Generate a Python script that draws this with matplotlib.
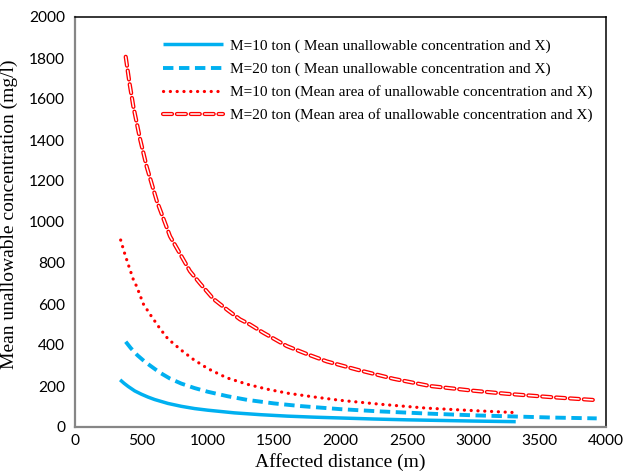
import matplotlib
matplotlib.use("Agg")
import matplotlib.pyplot as plt
import matplotlib.patheffects as pe

x_m10 = [340, 370, 400, 450, 500, 550, 600, 700, 800, 900, 1000, 1200, 1400,
         1600, 1800, 2000, 2250, 2500, 2750, 3000, 3320]
y_m10 = [230, 213, 198, 176, 160, 146, 134, 115, 101, 90, 82, 69, 60,
         53, 48, 44, 39, 35, 32, 29, 26]

x_m20 = [382, 420, 470, 520, 565, 640, 716, 800, 900, 1000, 1150, 1300, 1500,
         1700, 2000, 2300, 2674, 3000, 3327, 3600, 3930]
y_m20 = [416, 385, 350, 322, 300, 265, 236, 212, 190, 172, 150, 132, 115,
         102, 87, 76, 65, 57, 51, 46, 42]

x_a10 = [344, 370, 400, 439, 465, 515, 565, 640, 700, 800, 891, 1000, 1143,
         1300, 1444, 1600, 1795, 2000, 2300, 2649, 3000, 3327]
y_a10 = [912, 855, 795, 720, 685, 600, 550, 480, 430, 375, 330, 285, 240,
         208, 185, 165, 147, 130, 111, 92, 80, 70]

x_a20 = [382, 410, 439, 490, 540, 615, 716, 800, 866, 942, 1042, 1150, 1243,
         1318, 1418, 1595, 1750, 1896, 2122, 2400, 2674, 3000, 3252, 3600, 3904]
y_a20 = [1806, 1680, 1565, 1405, 1270, 1105, 930, 835, 760, 700, 625, 570, 525,
         500, 460, 395, 355, 320, 280, 235, 200, 177, 162, 145, 132]

labels = ["M=10 ton ( Mean unallowable concentration and X)",
          "M=20 ton ( Mean unallowable concentration and X)",
          "M=10 ton (Mean area of unallowable concentration and X)",
          "M=20 ton (Mean area of unallowable concentration and X)"]

plt.rcParams['lines.scale_dashes'] = False
blue = "#00B0F0"
red = "#FF0000"

fig = plt.figure(figsize=(6.27, 4.76), dpi=100)
ax = fig.add_axes([75/627, 49/476, 531/627, 410/476])

ax.plot(x_m10, y_m10, color=blue, lw=2.5, solid_capstyle="butt",
        solid_joinstyle="round", label=labels[0])
ax.plot(x_m20, y_m20, color=blue, lw=2.8, dashes=(7.5, 4), dash_capstyle="butt",
        dash_joinstyle="round", label=labels[1])
ax.plot(x_a10, y_a10, color=red, lw=2.3, dashes=(0.1, 4.8), dash_capstyle="round",
        label=labels[2])
ax.plot(x_a20, y_a20, color="white", lw=1.1, dashes=(6.5, 3.5), dash_capstyle="round",
        dash_joinstyle="round", label=labels[3],
        path_effects=[pe.Stroke(linewidth=3.0, foreground=red), pe.Normal()])

ax.set_xlim(0, 4000)
ax.set_ylim(0, 2000)
ax.set_xticks(range(0, 4001, 500))
ax.set_yticks(range(0, 2001, 200))
ax.tick_params(length=0, labelsize=11.2)
ax.tick_params(axis="y", pad=7)
ax.tick_params(axis="x", pad=5)
for t in ax.get_xticklabels() + ax.get_yticklabels():
    t.set_fontfamily("Lato")

for s in ["left", "bottom"]:
    ax.spines[s].set_color("#868686")
    ax.spines[s].set_linewidth(1.6)
for s in ["top", "right"]:
    ax.spines[s].set_color("black")
    ax.spines[s].set_linewidth(1.1)

ax.set_xlabel("Affected distance (m)", fontfamily="Liberation Serif", fontsize=14)
ax.set_ylabel("Mean unallowable concentration (mg/l)", fontfamily="Liberation Serif",
              fontsize=14)
ax.xaxis.set_label_coords(0.5, -0.064)
ax.yaxis.set_label_coords(-0.107, 0.52)

ax.legend(loc="upper left", bbox_to_anchor=(0.166, 0.946), frameon=False,
          borderpad=0, borderaxespad=0, handlelength=3.9, handletextpad=0.45,
          labelspacing=0.6, prop={"family": "Liberation Serif", "size": 11})

fig.savefig("out.png", dpi=100)
